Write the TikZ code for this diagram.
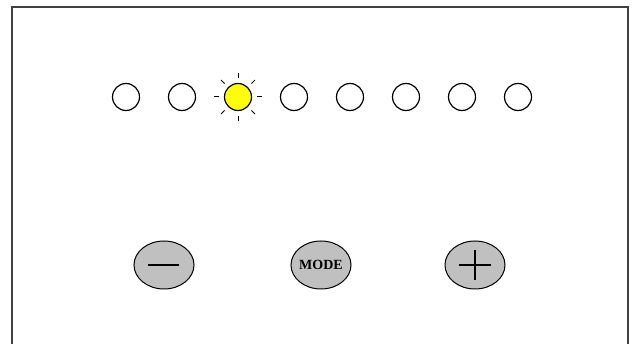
\documentclass[tikz,border=0pt]{standalone}
\usepackage{fontspec}
\setmainfont{Liberation Serif}
\usetikzlibrary{shapes.geometric,calc}
\definecolor{framegray}{HTML}{404040}
\definecolor{btngray}{HTML}{C0C0C0}
\definecolor{ledyellow}{HTML}{FFFF00}
\tikzset{
  led/.style={circle, draw=black, line width=1.2pt, fill=white, minimum size=27pt, inner sep=0pt},
  ledon/.style={led, fill=ledyellow},
  ray/.style={draw=black, line width=1pt},
  btn/.style={ellipse, draw=black, line width=1pt, fill=btngray, minimum width=60pt, minimum height=48pt, inner sep=0pt},
  btntext/.style={inner sep=0pt, font=\bfseries\fontsize{14}{14}\selectfont},
  glyph/.style={draw=black, line width=1.3pt},
  frameline/.style={draw=framegray, line width=2pt}
}
\begin{document}
\begin{tikzpicture}[x=1pt, y=-1pt]
\useasboundingbox (0,0) rectangle (635,344);
\draw[frameline] (12,344) -- (12,7) -- (628,7) -- (628,344);
\foreach \i/\x in {1/126,2/182,4/294,5/350,6/406,7/462,8/518}{
  \node[led] (led\i) at (\x,97) {};
}
\node[ledon] (led3) at (238,97) {};
\foreach \a in {0,45,...,315}{
  \draw[ray] ($(led3.center)+(\a:19)$) -- ($(led3.center)+(\a:24)$);
}
\node[btn] (minus) at (164,265) {};
\node[btn] (mode) at (321,265) {};
\node[btntext] (modetext) at (mode.center) {MODE};
\node[btn] (plus) at (475,265) {};
\draw[glyph] ($(minus.center)+(-16,0)$) -- ($(minus.center)+(15,0)$);
\draw[glyph] ($(plus.center)+(-16,0)$) -- ($(plus.center)+(16,0)$);
\draw[glyph] ($(plus.center)+(0,-15)$) -- ($(plus.center)+(0,15)$);
\end{tikzpicture}
\end{document}
